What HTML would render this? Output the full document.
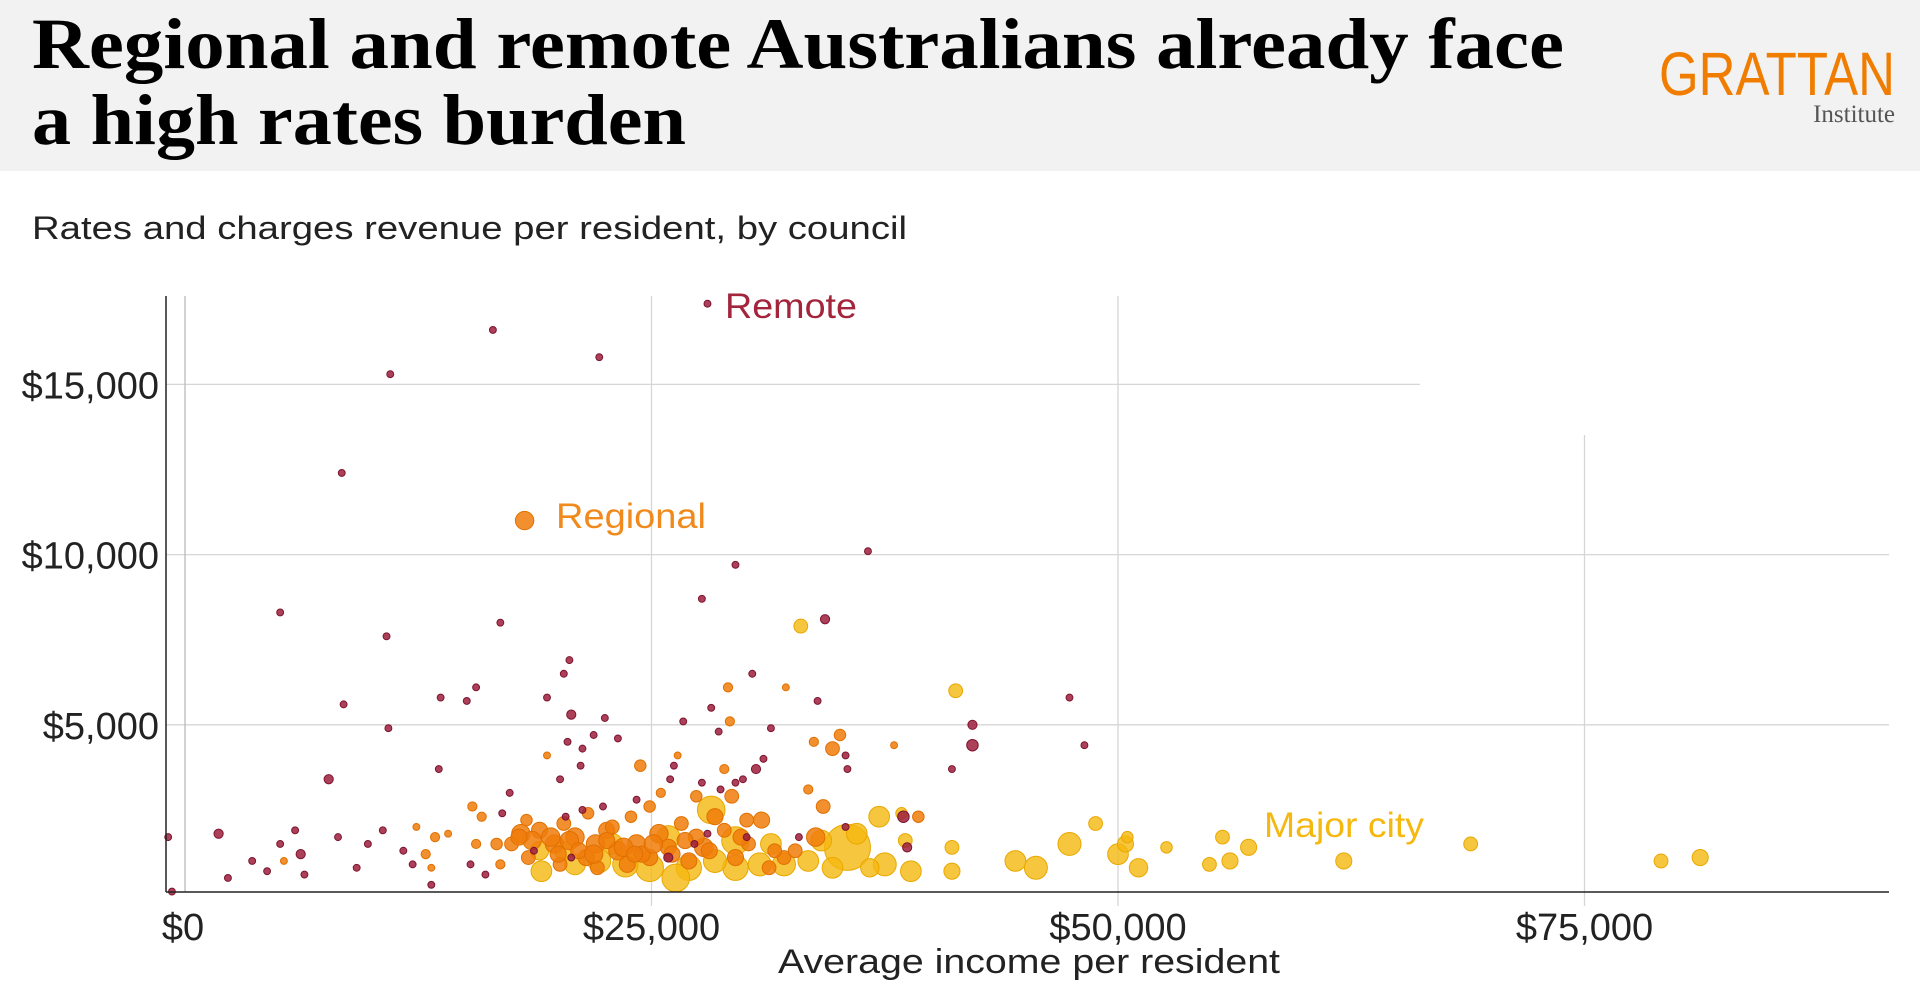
<!DOCTYPE html>
<html><head><meta charset="utf-8"><style>
html,body{margin:0;padding:0;background:#fff;}
svg{display:block;font-family:"Liberation Sans",sans-serif;}
</style></head><body>
<svg id="chart" width="1920" height="994" viewBox="0 0 1920 994" xmlns="http://www.w3.org/2000/svg">
<rect x="0" y="0" width="1920" height="171" fill="#f2f2f2"/>
<text x="32" y="68" font-family="Liberation Serif,serif" font-weight="bold" font-size="72" textLength="1532" lengthAdjust="spacingAndGlyphs" fill="#000">Regional and remote Australians already face</text>
<text x="32" y="144" font-family="Liberation Serif,serif" font-weight="bold" font-size="72" textLength="654" lengthAdjust="spacingAndGlyphs" fill="#000">a high rates burden</text>
<text x="1659" y="95" font-size="61" textLength="236" lengthAdjust="spacingAndGlyphs" fill="#f07d00">GRATTAN</text>
<text x="1895" y="122" text-anchor="end" font-family="Liberation Serif,serif" font-size="25" fill="#555">Institute</text>
<text x="32" y="239" font-size="32" textLength="875" lengthAdjust="spacingAndGlyphs" fill="#222">Rates and charges revenue per resident, by council</text>
<g id="grid"></g>
<g id="ticks"></g>
<g id="marks"></g>
<line x1="166" y1="296" x2="166" y2="892" stroke="#222" stroke-width="1.5"/>
<line x1="166" y1="892" x2="1889" y2="892" stroke="#222" stroke-width="1.5"/>
<text x="1029" y="973" text-anchor="middle" font-size="34" textLength="502" lengthAdjust="spacingAndGlyphs" fill="#222">Average income per resident</text>
<text x="725" y="318" font-size="35" textLength="132" lengthAdjust="spacingAndGlyphs" fill="#a3243b">Remote</text>
<text x="556" y="528" font-size="35" textLength="150" lengthAdjust="spacingAndGlyphs" fill="#f08a1c">Regional</text>
<text x="1264" y="837" font-size="35" textLength="160" lengthAdjust="spacingAndGlyphs" fill="#f5b80f">Major city</text>
</svg>
<script>
const xTicks=[0,25,50,75];
const xTickLabels=["$0","$25,000","$50,000","$75,000"];
const yTicks=[5,10,15];
const yTickLabels=["$5,000","$10,000","$15,000"];

const remoteX=[28.0,16.5,22.2,11.0,8.4,36.6,29.5,27.7,34.3,5.1,16.9,10.8,20.6,20.3,30.4,15.6,15.1,13.7,8.5,19.4,28.2,33.9,47.4,42.2,42.2,48.2,20.7,22.5,26.7,28.6,31.4,10.9,41.1,13.6,7.7,-0.9,1.8,-0.7,2.3,3.6,4.4,5.1,5.9,6.4,6.2,8.2,9.2,9.8,10.6,11.7,12.2,13.2,15.3,16.1,17.4,17.0,20.1,20.5,21.3,21.2,21.9,23.2,24.2,26.0,26.2,27.7,28.7,29.5,29.9,30.6,31.0,35.4,35.5,38.5,38.7,20.4,21.3,22.4,18.7,20.7,25.9,28.0,32.9,35.4,27.3,30.1];
const remoteY=[17.37,16.6,15.8,15.3,12.4,10.1,9.7,8.7,8.1,8.3,8.0,7.6,6.9,6.5,6.5,6.1,5.7,5.8,5.6,5.8,5.5,5.7,5.8,5.0,4.4,4.4,5.3,5.2,5.1,4.8,4.9,4.9,3.7,3.7,3.4,1.7,1.8,0.1,0.5,1.0,0.7,1.5,1.9,0.6,1.2,1.7,0.8,1.5,1.9,1.3,0.9,0.3,0.9,0.6,3.0,2.4,3.4,4.5,4.3,3.8,4.7,4.6,2.8,3.4,3.8,3.3,3.1,3.3,3.4,3.7,4.0,4.1,3.7,2.3,1.4,2.3,2.5,2.6,1.3,1.1,1.1,1.8,1.7,2.0,1.5,1.7];
const remoteSize=[3,3,3,3,3,3,3,3,4,3,3,3,3,3,3,3,3,3,3,3,3,3,3,4,5,3,4,3,3,3,3,3,3,3,4,3,4,3,3,3,3,3,3,3,4,3,3,3,3,3,3,3,3,3,3,3,3,3,3,3,3,3,3,3,3,3,3,3,3,4,3,3,3,5,4,3,3,3,3,3,4,3,3,3,3,3];

const regionalX=[18.2,29.1,32.2,29.2,35.1,34.7,38.0,33.7,19.4,26.4,24.4,28.9,33.4,34.2,33.8,15.4,15.9,18.3,25.5,27.4,29.3,30.1,39.3,12.9,13.4,13.2,5.3,16.7,16.9,15.6,14.1,12.4,18.0,19.0,19.8,20.3,20.9,21.5,22.0,22.6,23.2,23.7,24.2,24.9,25.4,25.9,26.6,27.0,27.8,28.4,28.9,29.5,30.2,30.9,31.3,32.1,32.7,17.5,18.4,20.1,22.1,22.9,23.9,21.6,24.9,18.6,19.6,20.6,21.1,21.9,22.6,23.5,24.5,25.1,26.1,27.4,28.1,29.8,31.6,26.8,24.1,20.0,17.9];
const regionalY=[11.0,6.1,6.1,5.1,4.7,4.3,4.4,4.5,4.1,4.1,3.8,3.7,3.1,2.6,1.7,2.6,2.3,2.2,3.0,2.9,2.9,2.2,2.3,1.2,1.7,0.8,1.0,1.5,0.9,1.5,1.8,2.0,1.8,1.9,1.5,2.1,1.7,1.1,1.5,1.9,1.3,0.9,1.5,1.1,1.8,1.4,2.1,1.0,1.4,2.3,1.9,1.1,1.5,2.2,0.8,1.1,1.3,1.5,1.1,0.9,0.8,2.0,2.3,2.4,2.6,1.6,1.7,1.6,1.3,1.2,1.6,1.4,1.2,1.5,1.2,1.7,1.3,1.7,1.3,1.6,1.2,1.2,1.7];
const regionalSize=[8,4,3,4,5,6,3,4,3,3,5,4,4,6,8,4,4,5,4,5,6,6,5,4,4,3,3,5,4,4,3,3,8,7,8,6,8,7,8,7,8,7,8,7,8,7,6,7,8,7,6,7,6,7,6,6,6,6,6,6,6,6,5,5,5,8,8,8,7,8,7,8,7,8,7,7,7,7,6,7,7,7,7];

const cityX=[41.3,33.0,37.2,48.8,47.4,28.2,35.5,55.6,57.0,68.9,62.1,79.1,81.2,50.0,50.4,51.1,52.6,54.9,56.0,50.5,41.1,41.1,44.5,45.6,38.9,37.5,36.7,34.7,33.4,32.1,30.8,29.5,28.4,27.0,26.3,24.9,23.6,22.2,20.9,19.1,19.0,20.3,22.9,25.9,29.5,31.4,36.0,34.1,38.6,38.4];
const cityY=[6.0,7.9,2.3,2.1,1.5,2.5,1.4,1.7,1.4,1.5,1.0,1.0,1.1,1.2,1.5,0.8,1.4,0.9,1.0,1.7,1.4,0.7,1.0,0.8,0.7,0.9,0.8,0.8,1.0,0.9,0.9,0.8,1.0,0.8,0.5,0.8,0.9,1.0,0.9,0.7,1.3,1.3,1.5,1.7,1.6,1.5,1.8,1.6,1.6,2.4];
const citySize=[6,6,9,6,10,12,20,6,7,6,7,6,7,9,7,8,5,6,7,5,6,7,9,10,9,10,8,9,9,10,10,11,10,11,12,12,11,10,9,9,8,8,9,10,12,9,9,9,6,5];

const NS="http://www.w3.org/2000/svg";
function xScale(v){return 185+v*18.66;}
function yScale(v){return 895-v*34.04;}
function rScale(s){return s*1.15;}

const grid=document.getElementById('grid');
const ticks=document.getElementById('ticks');
const marks=document.getElementById('marks');

yTicks.forEach((t,i)=>{
  const l=document.createElementNS(NS,'line');
  
  
  l.setAttribute('x1',166);l.setAttribute('x2',t===15?1420:1889);
  l.setAttribute('y1',yScale(t));l.setAttribute('y2',yScale(t));
  l.setAttribute('stroke','#d6d6d6');l.setAttribute('stroke-width','1.3');
  grid.appendChild(l);
  const tx=document.createElementNS(NS,'text');
  
  
  tx.setAttribute('x',159);tx.setAttribute('y',yScale(t)+14);
  tx.setAttribute('text-anchor','end');tx.setAttribute('font-size','38');tx.setAttribute('fill','#222');
  tx.textContent=yTickLabels[i];
  ticks.appendChild(tx);
});
xTicks.forEach((t,i)=>{
  const l=document.createElementNS(NS,'line');
  
  
  l.setAttribute('x1',xScale(t));l.setAttribute('x2',xScale(t));
  l.setAttribute('y1',t===75?435:296);l.setAttribute('y2',t===0?892:906);
  l.setAttribute('stroke',t===0?'#bbb':'#d6d6d6');l.setAttribute('stroke-width','1.3');
  grid.appendChild(l);
  const tx=document.createElementNS(NS,'text');
  
  
  tx.setAttribute('x',t===0?xScale(t)-2:xScale(t));tx.setAttribute('y',940);
  tx.setAttribute('text-anchor','middle');tx.setAttribute('font-size','38');tx.setAttribute('fill','#222');
  tx.textContent=xTickLabels[i];
  ticks.appendChild(tx);
});

function drawSeries(xs,ys,ss,color,stroke,name,op){
  xs.forEach((x,i)=>{
    const c=document.createElementNS(NS,'circle');
    
    
    c.setAttribute('cx',xScale(x));c.setAttribute('cy',yScale(ys[i]));
    c.setAttribute('r',rScale(ss[i]));
    c.setAttribute('fill',color);c.setAttribute('fill-opacity',op);
    c.setAttribute('stroke',stroke);c.setAttribute('stroke-width','1');
    marks.appendChild(c);
  });
}
drawSeries(cityX,cityY,citySize,'#f5b80f','#e8a800','point-major-city','0.8');
drawSeries(regionalX,regionalY,regionalSize,'#f07d0a','#e07000','point-regional','0.85');
drawSeries(remoteX,remoteY,remoteSize,'#9e1f3c','#7d1530','point-remote','0.85');
</script>
</body></html>
